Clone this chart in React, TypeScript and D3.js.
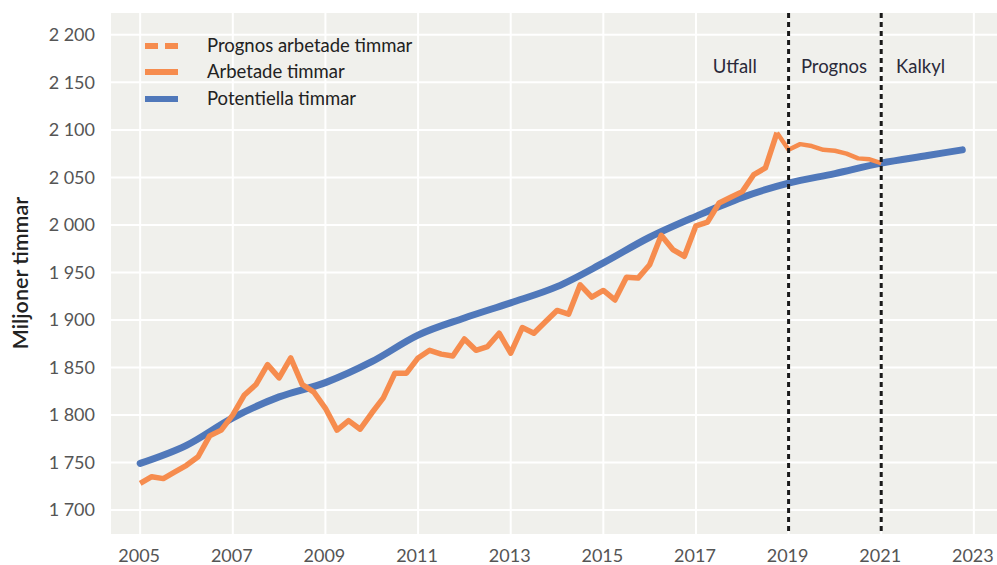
import React from "react";
import * as d3 from "d3";

// Quarterly data, x = year + (quarter-1)/4
const actualYears: number[] = [
  2005.0, 2005.25, 2005.5, 2005.75, 2006.0, 2006.25, 2006.5, 2006.75,
  2007.0, 2007.25, 2007.5, 2007.75, 2008.0, 2008.25, 2008.5, 2008.75,
  2009.0, 2009.25, 2009.5, 2009.75, 2010.0, 2010.25, 2010.5, 2010.75,
  2011.0, 2011.25, 2011.5, 2011.75, 2012.0, 2012.25, 2012.5, 2012.75,
  2013.0, 2013.25, 2013.5, 2013.75, 2014.0, 2014.25, 2014.5, 2014.75,
  2015.0, 2015.25, 2015.5, 2015.75, 2016.0, 2016.25, 2016.5, 2016.75,
  2017.0, 2017.25, 2017.5, 2017.75, 2018.0, 2018.25, 2018.5, 2018.75,
];
const actualHours: number[] = [
  1728, 1735, 1733, 1740, 1747, 1756, 1778, 1784,
  1800, 1821, 1832, 1853, 1839, 1860, 1832, 1824,
  1807, 1784, 1794, 1785, 1802, 1818, 1844, 1844,
  1860, 1868, 1864, 1862, 1880, 1868, 1872, 1886,
  1865, 1892, 1886, 1898, 1910, 1906, 1937, 1924,
  1931, 1921, 1945, 1944, 1958, 1989, 1974, 1967,
  1999, 2003, 2023, 2029, 2035, 2053, 2060, 2097,
];
const forecastYears: number[] = [
  2018.75, 2019.0, 2019.25, 2019.5, 2019.75, 2020.0, 2020.25, 2020.5, 2020.75, 2021.0,
];
const forecastHours: number[] = [
  2097, 2079, 2085, 2083, 2079, 2078, 2075, 2070, 2069, 2065,
];
const potentialYears: number[] = [
  2005, 2006, 2007, 2008, 2009, 2010, 2011, 2012, 2013, 2014,
  2015, 2016, 2017, 2018, 2019, 2020, 2021, 2022, 2022.75,
];
const potentialHours: number[] = [
  1749, 1768, 1797, 1819, 1834, 1856, 1884, 1902, 1918, 1935,
  1960, 1987, 2009, 2029, 2044, 2054, 2065, 2073, 2079,
];
const yTicks: number[] = [1700, 1750, 1800, 1850, 1900, 1950, 2000, 2050, 2100, 2150, 2200];
const xTicks: number[] = [2005, 2007, 2009, 2011, 2013, 2015, 2017, 2019, 2021, 2023];
const periodLines: number[] = [2019, 2021];
const periodLabels: string[] = ["Utfall", "Prognos", "Kalkyl"];
const periodLabelYears: number[] = [2017.84, 2019.98, 2021.85];
const legendLabels: string[] = ["Prognos arbetade timmar", "Arbetade timmar", "Potentiella timmar"];

const W = 997;
const H = 565;
const ORANGE = "#f68c4e";
const BLUE = "#5078ba";
const FONT = "Lato, 'Open Sans', sans-serif";

const fmt = (v: number) => {
  const s = String(v);
  return s.length > 3 ? s.slice(0, s.length - 3) + " " + s.slice(-3) : s;
};

export default function App() {
  const left = 111, right = 997, top = 13, bottom = 534;
  const x = d3.scaleLinear().domain([2004.37, 2023.5]).range([left, right]);
  const y = d3.scaleLinear().domain([1674.7, 2223]).range([bottom, top]);

  const line = d3
    .line<[number, number]>()
    .x((d) => x(d[0]))
    .y((d) => y(d[1]));
  const smooth = d3
    .line<[number, number]>()
    .x((d) => x(d[0]))
    .y((d) => y(d[1]))
    .curve(d3.curveMonotoneX);

  const actual = actualYears.map((t, i) => [t, actualHours[i]] as [number, number]);
  const forecast = forecastYears.map((t, i) => [t, forecastHours[i]] as [number, number]);
  const potential = potentialYears.map((t, i) => [t, potentialHours[i]] as [number, number]);

  const legendY = [46, 72, 99];

  return (
    <svg
      width={W}
      height={H}
      style={{ position: "absolute", left: 0, top: 0, display: "block", background: "#fff" }}
      fontFamily={FONT}
    >
      <rect x={left} y={top} width={right - left} height={bottom - top} fill="#f0f0ec" />
      {yTicks.map((t) => (
        <line key={"hy" + t} x1={left} x2={right} y1={y(t)} y2={y(t)} stroke="#fff" strokeWidth={2} />
      ))}
      {xTicks.map((t) => (
        <line key={"vx" + t} x1={x(t)} x2={x(t)} y1={top} y2={bottom} stroke="#fff" strokeWidth={2} />
      ))}
      {yTicks.map((t) => (
        <text key={"ty" + t} x={95} y={y(t)} dy="0.35em" textAnchor="end" fontSize={18} fill="#555">
          {fmt(t)}
        </text>
      ))}
      {xTicks.map((t) => (
        <text key={"tx" + t} x={x(t) - 1} y={556} dy="0.35em" textAnchor="middle" fontSize={18} fill="#555">
          {t}
        </text>
      ))}
      <text
        transform={`translate(28,273) rotate(-90)`}
        textAnchor="middle"
        fontSize={21.5}
        fontWeight={600}
        fill="#222"
      >
        Miljoner timmar
      </text>

      <path d={smooth(potential) || ""} fill="none" stroke={BLUE} strokeWidth={7} strokeLinecap="round" />
      <path d={line(actual) || ""} fill="none" stroke={ORANGE} strokeWidth={5.5} strokeLinejoin="round" />
      <path d={line(forecast) || ""} fill="none" stroke={ORANGE} strokeWidth={4.5} strokeLinejoin="round" />

      {periodLines.map((t) => (
        <line
          key={"pl" + t}
          x1={x(t)}
          x2={x(t)}
          y1={top}
          y2={bottom}
          stroke="#1a1a1a"
          strokeWidth={3}
          strokeDasharray="5,4"
        />
      ))}
      {periodLabels.map((s, i) => (
        <text key={s} x={x(periodLabelYears[i])} y={67} dy="0.35em" textAnchor="middle" fontSize={18.5} fill="#2a2a3a">
          {s}
        </text>
      ))}

      {/* Legend */}
      <line x1={145} x2={178} y1={legendY[0]} y2={legendY[0]} stroke={ORANGE} strokeWidth={6} strokeDasharray="13,7" />
      <line x1={145} x2={178} y1={legendY[1]} y2={legendY[1]} stroke={ORANGE} strokeWidth={6} />
      <line x1={145} x2={178} y1={legendY[2]} y2={legendY[2]} stroke={BLUE} strokeWidth={6} />
      {legendLabels.map((s, i) => (
        <text key={s} x={207} y={legendY[i]} dy="0.35em" fontSize={18.5} fill="#222">
          {s}
        </text>
      ))}
    </svg>
  );
}
